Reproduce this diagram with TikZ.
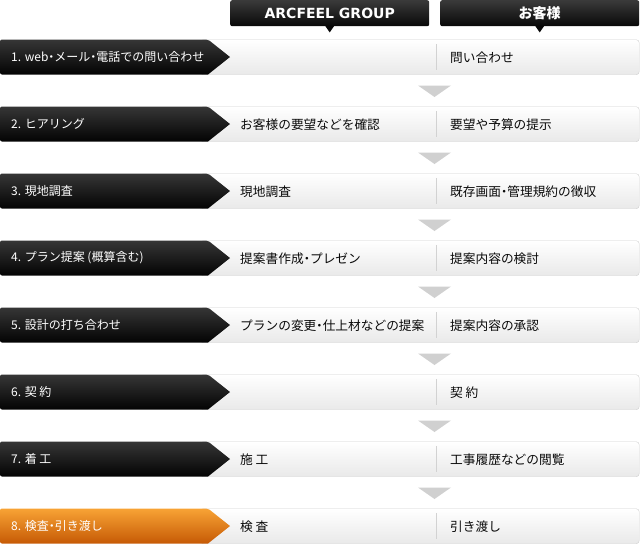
\documentclass[tikz,border=0pt]{standalone}
\usepackage{fontspec}
\setmainfont{Noto Sans CJK JP}
\newfontfamily\hdlatin{DejaVu Sans}
\usetikzlibrary{calc}
\newcommand\ndot{\makebox[0.5em][c]{・}}
\definecolor{hdtop}{HTML}{3A3A3A}
\definecolor{hdbot}{HTML}{080808}
\definecolor{blktop}{HTML}{363636}
\definecolor{blkbot}{HTML}{030303}
\definecolor{orgtop}{HTML}{F8A335}
\definecolor{orgbot}{HTML}{C65A05}
\definecolor{rowbot}{HTML}{E9E9E9}
\definecolor{rowline}{HTML}{CFCFCF}
\definecolor{divcol}{HTML}{D2D2D2}
\definecolor{tricol}{HTML}{D0D0D0}
\definecolor{txt}{HTML}{0A0A0A}
\tikzset{
  hdr/.style={top color=hdtop,bottom color=hdbot,rounded corners=2pt,
    minimum width=199pt,minimum height=26pt,inner sep=0pt,text=white,
    font=\fontsize{14}{16}\selectfont\bfseries,anchor=north west},
  rowbar/.style={draw=rowline,top color=white,bottom color=rowbot,
    rounded corners=3pt,minimum width=439pt,minimum height=35pt,
    inner sep=0pt,anchor=north west},
  lbltxt/.style={anchor=west,inner sep=0pt,text=white,
    font=\fontsize{12}{14}\selectfont},
  celltxt/.style={anchor=west,inner sep=0pt,text=txt,
    font=\fontsize{12.7}{15}\selectfont},
  divline/.style={draw=divcol,line width=0.8pt},
  downtri/.style={fill=tricol}
}
\begin{document}
\begin{tikzpicture}[x=1pt,y=-1pt]
\useasboundingbox (0,0) rectangle (640,544);
% headers
\node[hdr] (h1) at (230,0) {\hdlatin ARCFEEL GROUP};
\node[hdr] (h2) at (440,0) {お客様};
\fill[hdbot] ($(h1.south)+(-4.5,-0.5)$) -- ++(9,0) -- ++(-4.5,6.5) -- cycle;
\fill[hdbot] ($(h2.south)+(-4.5,-0.5)$) -- ++(9,0) -- ++(-4.5,6.5) -- cycle;
% rows
\foreach \i/\k/\a/\b/\c in {
  1/blk/{1. web\ndot メール\ndot 電話での問い合わせ}/{}/{問い合わせ},
  2/blk/{2. ヒアリング}/{お客様の要望などを確認}/{要望や予算の提示},
  3/blk/{3. 現地調査}/{現地調査}/{既存画面\ndot 管理規約の徴収},
  4/blk/{4. プラン提案 (概算含む)}/{提案書作成\ndot プレゼン}/{提案内容の検討},
  5/blk/{5. 設計の打ち合わせ}/{プランの変更\ndot 仕上材などの提案}/{提案内容の承認},
  6/blk/{6. 契 約}/{}/{契 約},
  7/blk/{7. 着 工}/{施 工}/{工事履歴などの閲覧},
  8/org/{8. 検査\ndot 引き渡し}/{検 査}/{引き渡し}}{
  \pgfmathsetmacro{\t}{39.5+67*(\i-1)}
  \pgfmathsetmacro{\m}{\t+17.5}
  \pgfmathsetmacro{\bt}{\t+35}
  \node[rowbar] (B\i) at (200,\t) {};
  \shade[top color=\k top,bottom color=\k bot]
    (0,\m) [rounded corners=2pt] -- (0,\t) -- (208,\t) [sharp corners]
    -- (230,\m) -- (208,\bt) [rounded corners=2pt] -- (0,\bt) -- cycle;
  \draw[divline] (436,\t+4.5) -- (436,\t+30.5);
  \node[lbltxt] (L\i) at (11,\m) {\a};
  \node[celltxt] (M\i) at (240,\m+1) {\b};
  \node[celltxt] (R\i) at (450,\m+1) {\c};
  \ifnum\i<8
    \fill[downtri] (418,\t+46) -- (451,\t+46) -- (434.5,\t+57.5) -- cycle;
  \fi
}
\end{tikzpicture}
\end{document}
